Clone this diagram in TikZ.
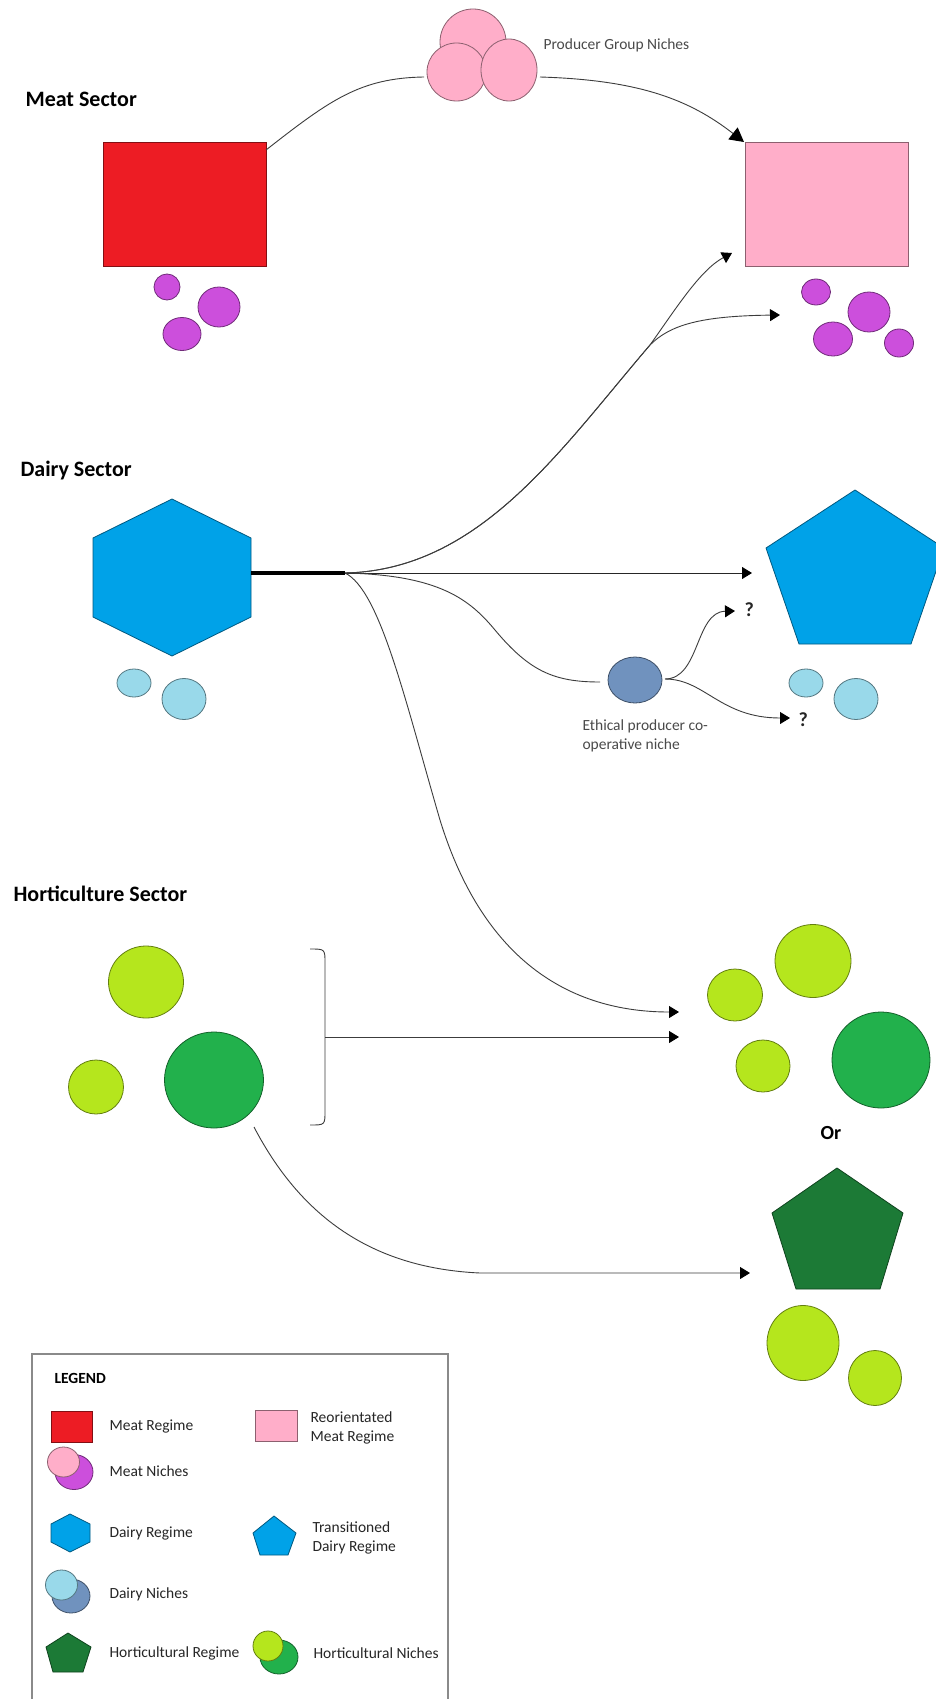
\documentclass[tikz,border=0pt]{standalone}
\usepackage{fontspec}
\setmainfont{Carlito}
\usetikzlibrary{arrows.meta,shapes.geometric}

\definecolor{meatred}{HTML}{ED1C24}
\definecolor{meatpink}{HTML}{FFAEC9}
\definecolor{nichepurple}{HTML}{CC4FDC}
\definecolor{dairyblue}{HTML}{00A2E8}
\definecolor{dairylight}{HTML}{99D9EA}
\definecolor{dairysteel}{HTML}{7092BE}
\definecolor{hortlime}{HTML}{B5E61D}
\definecolor{hortgreen}{HTML}{22B14C}
\definecolor{hortdark}{HTML}{1C7A36}
\definecolor{linegray}{HTML}{3C3C3C}
\definecolor{labelgray}{HTML}{4A4A4A}
\definecolor{framegray}{HTML}{8A8A8A}

\begin{document}
\begin{tikzpicture}[x=1pt,y=-1pt,
  conn/.style={draw=linegray, line width=0.9pt},
  arr/.style={conn, -{Triangle[length=10pt,width=12pt,color=black]}},
  bigarr/.style={conn, -{Triangle[length=14pt,width=15pt,color=black]}},
  shapeline/.style={line width=0.8pt, draw=#1!55!black, fill=#1},
  blob/.style={ellipse, shapeline=#1, inner sep=0pt, outer sep=0pt},
  sz/.style 2 args={minimum width=#1pt, minimum height=#2pt},
  regbox/.style={rectangle, shapeline=#1, inner sep=0pt, outer sep=0pt},
  title/.style={anchor=base west, font=\fontsize{22}{26}\selectfont\bfseries},
  note/.style={anchor=base west, text=labelgray, font=\fontsize{15.5}{19}\selectfont},
  legtext/.style={anchor=base west, text=black!85, font=\fontsize{15.5}{19}\selectfont},
  query/.style={anchor=base west, text=black!85, font=\fontsize{20}{24}\selectfont\bfseries},
]
\clip (0,0) rectangle (936,1699);
\fill[white] (0,0) rectangle (936,1699);

% ---------------- Meat sector ----------------
\node[title] (meatT) at (22,107) {Meat Sector};
\node[regbox=meatred, sz={163}{124}] (meatReg) at (184.5,204) {};
\node[blob=nichepurple, sz={26}{26}] (mnA) at (167,287) {};
\node[blob=nichepurple, sz={42}{40}] (mnB) at (219,307) {};
\node[blob=nichepurple, sz={38}{33}] (mnC) at (182,334) {};

% producer group niches
\node[blob=meatpink, sz={66}{66}] (pgTop) at (473,42) {};
\node[blob=meatpink, sz={59}{58}] (pgLeft) at (456.5,72) {};
\node[blob=meatpink, sz={56}{62}] (pgRight) at (509,70) {};
\node[note] (pgT) at (540,50) {Producer Group Niches};

% reoriented regime
\node[regbox=meatpink, sz={163}{124}] (pinkReg) at (826.5,204) {};
\node[blob=nichepurple, sz={29}{26}] (rnA) at (816,292) {};
\node[blob=nichepurple, sz={42}{40}] (rnB) at (869,312) {};
\node[blob=nichepurple, sz={39}{34}] (rnC) at (833,339) {};
\node[blob=nichepurple, sz={29}{28}] (rnD) at (899,343) {};

\coordinate (meatOut) at (266,150);
\coordinate (pgIn) at (424,77);
\coordinate (pgOut) at (540,77);
\coordinate (pinkCorner) at (744,142);
\draw[conn] (meatOut) .. controls (330,100) and (360,78) .. (pgIn);
\draw[bigarr] (pgOut) .. controls (640,80) and (690,100) .. (pinkCorner);

% ---------------- Dairy sector ----------------
\node[title] (dairyT) at (17,476) {Dairy Sector};
\path[shapeline=dairyblue] (172,499) -- (251,538) -- (251,617) -- (172,656)
  -- (93,617) -- (93,538) -- cycle;
\coordinate (hexE) at (251,573);
\node[blob=dairylight, sz={34}{28}] (dnA) at (134,683) {};
\node[blob=dairylight, sz={44}{41}] (dnB) at (184,699) {};

\path[shapeline=dairyblue] (855,490) -- (944,548) -- (911,644) -- (799,644)
  -- (766,548) -- cycle;
\node[blob=dairylight, sz={34}{28}] (tnA) at (806,683) {};
\node[blob=dairylight, sz={44}{41}] (tnB) at (856,699) {};

\node[blob=dairysteel, sz={54}{46}] (ethical) at (635,680) {};
\node[note] (ethT1) at (579,730) {Ethical producer co-};
\node[note] (ethT2) at (579,749) {operative niche};

% hub where the dairy pathways split
\coordinate (hub) at (345,573);
\coordinate (fork) at (650,345);
\coordinate (pinkLow) at (732,253);
\coordinate (meatNicheIn) at (780,315);
\coordinate (pentIn) at (752,573);
\coordinate (ethIn) at (600,682);
\coordinate (ethOut) at (665,679);
\coordinate (qUp) at (735,611);
\coordinate (qLow) at (790,718);
\coordinate (hortIn) at (679,1012);

\draw[black, line width=3.5pt] (hexE) -- (hub);
\draw[arr] (hub) .. controls (480,570) and (560,450) .. (fork)
  .. controls (675,310) and (700,270) .. (pinkLow);
\draw[arr] (hub) .. controls (480,570) and (560,450) .. (fork)
  .. controls (670,325) and (700,316) .. (meatNicheIn);
\draw[arr, draw=black!85] (hub) -- (pentIn);
\draw[conn] (hub) .. controls (440,575) and (470,600) .. (495,630)
  .. controls (530,672) and (555,682) .. (ethIn);
\draw[arr] (ethOut) .. controls (700,679) and (695,612) .. (qUp);
\draw[arr] (ethOut) .. controls (705,679) and (720,718) .. (qLow);
\node[query] (q1) at (741,616) {?};
\node[query] (q2) at (795,726) {?};
\draw[arr] (hub) .. controls (380,590) and (405,700) .. (440,820)
  .. controls (480,950) and (560,1012) .. (hortIn);

% ---------------- Horticulture sector ----------------
\node[title] (hortT) at (10,901) {Horticulture Sector};
\node[blob=hortlime, sz={75}{72}] (hlA) at (146,982) {};
\node[blob=hortlime, sz={55}{54}] (hlB) at (96,1087) {};
\node[blob=hortgreen, sz={99}{96}] (hgA) at (214,1080) {};

\coordinate (brTop) at (310,949);
\coordinate (brBot) at (310,1125);
\coordinate (brMid) at (325,1037);
\coordinate (groupIn) at (679,1037);
\draw[conn] (brTop) .. controls (325,949) .. (325,963) -- (325,1111)
  .. controls (325,1125) .. (brBot);
\draw[arr] (brMid) -- (groupIn);

\node[blob=hortlime, sz={55}{52}] (rlA) at (735,995) {};
\node[blob=hortlime, sz={76}{73}] (rlB) at (813,961) {};
\node[blob=hortlime, sz={54}{52}] (rlC) at (763,1066) {};
\node[blob=hortgreen, sz={98}{96}] (rgA) at (881,1060) {};

\node[anchor=base west, font=\fontsize{20}{24}\selectfont\bfseries] (orT) at (817,1139) {Or};

\path[shapeline=hortdark] (837,1168) -- (903,1213) -- (880,1289) -- (796,1289)
  -- (772,1213) -- cycle;
\node[blob=hortlime, sz={72}{75}] (plA) at (803,1343) {};
\node[blob=hortlime, sz={53}{55}] (plB) at (875,1378) {};

\coordinate (hgOut) at (254,1127);
\coordinate (hortPentIn) at (750,1273);
\draw[arr] (hgOut) .. controls (300,1215) and (370,1268) .. (480,1273) -- (hortPentIn);

% ---------------- Legend ----------------
\draw[framegray, line width=1.3pt] (32,1699) -- (32,1354) -- (448,1354) -- (448,1699);
\node[anchor=base west, font=\fontsize{15.5}{19}\selectfont\bfseries] (legT) at (51,1383) {LEGEND};

\path[shapeline=meatred] (51,1411) rectangle (92,1442);
\node[legtext] at (106,1430) {Meat Regime};
\path[shapeline=meatpink] (255,1410) rectangle (297,1441);
\node[legtext] at (307,1422) {Reorientated};
\node[legtext] at (307,1441) {Meat Regime};

\node[blob=nichepurple, sz={38}{35}] at (74,1472) {};
\node[blob=meatpink, sz={32}{30}] at (63.5,1462) {};
\node[legtext] at (106,1476) {Meat Niches};

\path[shapeline=dairyblue] (70,1514) -- (90,1524) -- (90,1542) -- (70,1552)
  -- (51,1542) -- (51,1524) -- cycle;
\node[legtext] at (106,1537) {Dairy Regime};
\path[shapeline=dairyblue] (274,1516) -- (296,1533) -- (288,1555) -- (260,1555)
  -- (253,1533) -- cycle;
\node[legtext] at (309,1532) {Transitioned};
\node[legtext] at (309,1551) {Dairy Regime};

\node[blob=dairysteel, sz={38}{34}] at (71,1596) {};
\node[blob=dairylight, sz={32}{30}] at (61.5,1585) {};
\node[legtext] at (106,1598) {Dairy Niches};

\path[shapeline=hortdark] (68,1633) -- (91,1647) -- (83,1672) -- (53,1672)
  -- (46,1647) -- cycle;
\node[legtext] at (106,1657) {Horticultural Regime};
\node[blob=hortgreen, sz={38}{34}] at (279,1657) {};
\node[blob=hortlime, sz={30}{30}] at (268,1646) {};
\node[legtext] at (310,1658) {Horticultural Niches};
\end{tikzpicture}
\end{document}
